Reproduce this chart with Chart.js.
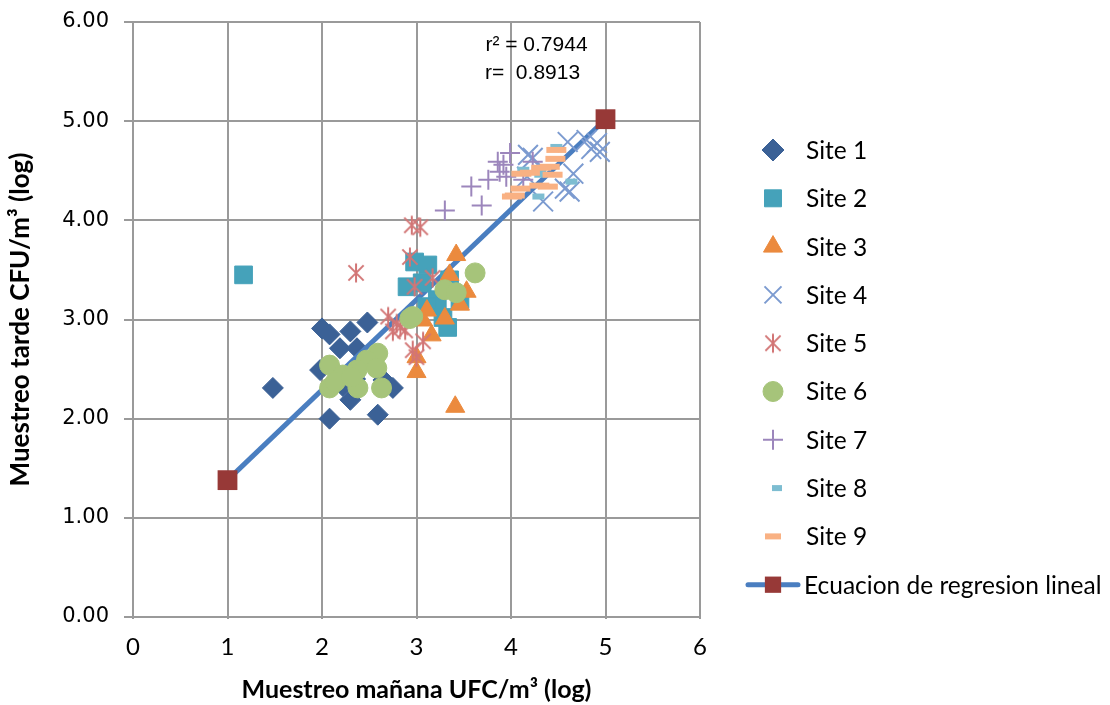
<!DOCTYPE html>
<html>
<head>
<meta charset="utf-8">
<script src="https://cdn.jsdelivr.net/npm/chart.js@4.4.1/dist/chart.umd.min.js"></script>
<style>
  html, body { margin: 0; padding: 0; background: #fff; }
  #wrap { width: 1110px; height: 705px; }
</style>
</head>
<body>
<div id="wrap"><canvas id="myChart" width="1110" height="705"></canvas></div>
<script>
// [morning, afternoon] log values per site
const site1 = [[2.00,2.91],[2.08,2.85],[2.30,2.88],[2.48,2.97],[2.19,2.71],[2.37,2.71],[1.98,2.49],
  [1.48,2.31],[2.30,2.19],[2.08,2.00],[2.59,2.04],[2.75,2.31],[2.65,2.39],[2.35,2.40],[2.22,2.33]];
const site2 = [[1.17,3.45],[2.98,3.58],[3.12,3.55],[2.90,3.33],[3.06,3.37],[3.35,3.40],[3.22,3.20],
  [3.46,3.20],[3.11,3.13],[3.28,3.02],[3.33,2.92]];
const site3 = [[3.42,3.65],[3.35,3.45],[3.53,3.28],[3.46,3.15],[3.11,3.09],[3.07,2.99],[3.30,3.01],
  [3.16,2.84],[3.00,2.62],[3.00,2.47],[3.41,2.12]];
const site4 = [[4.60,4.79],[4.80,4.81],[4.91,4.78],[4.94,4.69],[4.85,4.72],[4.66,4.47],[4.23,4.63],
  [4.57,4.32],[4.62,4.29],[4.34,4.19],[4.18,4.66],[4.17,4.44]];
const site5 = [[2.95,3.95],[3.04,3.93],[2.93,3.63],[2.98,3.33],[3.17,3.42],[2.36,3.47],[2.70,3.03],
  [2.79,2.96],[2.75,2.88],[2.88,2.89],[3.07,2.78],[3.00,2.62],[2.83,2.92],[2.96,2.69]];
const site6 = [[2.08,2.54],[2.93,3.01],[2.59,2.66],[2.47,2.59],[2.37,2.49],[2.22,2.44],[2.08,2.31],
  [2.38,2.31],[2.63,2.31],[2.58,2.51],[2.14,2.37],[2.31,2.42],[3.62,3.47],[3.30,3.30],[3.42,3.27],[2.96,3.03]];
const site7 = [[3.99,4.68],[3.86,4.59],[3.92,4.56],[3.88,4.49],[3.95,4.44],[3.76,4.41],[3.58,4.34],
  [3.69,4.15],[3.30,4.10],[4.23,4.59],[4.13,4.41]];
const site8 = [[4.48,4.74],[4.31,4.51],[4.31,4.46],[4.64,4.39],[4.29,4.24],[4.13,4.51]];
const site9 = [[4.48,4.71],[4.47,4.62],[4.41,4.54],[4.32,4.53],[4.11,4.47],[4.44,4.46],[4.39,4.34],
  [4.10,4.32],[4.04,4.25],[4.01,4.24],[4.20,4.48],[4.30,4.35]];
const regresion = [[1,1.38],[5,5.02]];
const stats = ['r\u00B2 = 0.7944', 'r=  0.8913'];

const pts = arr => arr.map(p => ({x: p[0], y: p[1]}));

// asterisk marker: X with a vertical bar, like Excel's star
function starMarker(size, color) {
  const c = document.createElement('canvas');
  c.width = size; c.height = size;
  const g = c.getContext('2d');
  const h = size / 2, r = h - 1.5;
  g.strokeStyle = color; g.lineWidth = 2;
  g.beginPath();
  g.moveTo(h - r * 0.8, h - r * 0.8); g.lineTo(h + r * 0.8, h + r * 0.8);
  g.moveTo(h + r * 0.8, h - r * 0.8); g.lineTo(h - r * 0.8, h + r * 0.8);
  g.moveTo(h, h - r); g.lineTo(h, h + r);
  g.stroke();
  return c;
}

function site(label, data, color, style, radius, order, extra) {
  return Object.assign({
    label: label, data: pts(data), order: order,
    pointStyle: style, pointRadius: radius, pointHoverRadius: radius,
    backgroundColor: color, borderColor: color, pointBorderWidth: 1
  }, extra || {});
}

const datasets = [
  site('Site 1', site1, '#3B6196', 'rectRot', 10.5, 11),
  site('Ecuacion de regresion lineal', regresion, '#973937', 'rect', 14, 10,
    {type: 'line', showLine: true, borderColor: '#4A7EC0', borderWidth: 5, pointBackgroundColor: '#973937',
     pointBorderColor: '#973937', pointBorderWidth: 0}),
  site('Site 2', site2, '#45A2BA', 'rect', 12.5, 9),
  site('Site 3', site3, '#EB8A3E', 'triangle', 11, 8),
  site('Site 4', site4, '#7C9BD0', 'crossRot', 14, 7, {pointBorderWidth: 2}),
  site('Site 5', site5, '#D27575', starMarker(22, '#D27575'), 11, 6),
  site('Site 6', site6, '#A6C47A', 'circle', 10, 5),
  site('Site 7', site7, '#9C86BC', 'cross', 10, 4, {pointBorderWidth: 2}),
  site('Site 8', site8, '#7DBDD1', 'line', 6, 3, {pointBorderWidth: 6}),
  site('Site 9', site9, '#F9B183', 'line', 10, 2, {pointBorderWidth: 6})
];

const legendOrder = ['Site 1','Site 2','Site 3','Site 4','Site 5','Site 6','Site 7','Site 8','Site 9',
  'Ecuacion de regresion lineal'];

const sideLegend = {
  id: 'sideLegend',
  afterDraw(chart) {
    const ctx = chart.ctx;
    const drawPoint = Chart.helpers && Chart.helpers.drawPoint;
    ctx.save();
    ctx.font = '24.5px Lato, "Open Sans", sans-serif';
    ctx.textBaseline = 'middle';
    ctx.fillStyle = '#000';
    legendOrder.forEach((name, i) => {
      const ds = chart.data.datasets.find(d => d.label === name);
      const y = 150 + i * 48.3;
      const mx = 773;
      if (ds.showLine) {
        ctx.strokeStyle = ds.borderColor; ctx.lineWidth = 5; ctx.lineCap = 'round';
        ctx.beginPath(); ctx.moveTo(748, y); ctx.lineTo(798, y); ctx.stroke();
      }
      if (drawPoint) {
        ctx.fillStyle = ds.pointBackgroundColor || ds.backgroundColor;
        ctx.strokeStyle = ds.pointBorderColor || ds.borderColor;
        ctx.lineWidth = ds.pointBorderWidth;
        const style = ds.pointStyle;
        let r = ds.showLine ? 11.5 : Math.min(ds.pointRadius, 12);
        if (style === 'line') r = name === 'Site 8' ? 5 : 8;
        if (style === 'rectRot') r = 11;
        drawPoint(ctx, {pointStyle: style, radius: r, rotation: 0, borderWidth: ds.pointBorderWidth}, style === 'line' && name === 'Site 8' ? mx + 4 : mx, y);
      }
      ctx.fillStyle = '#000';
      ctx.fillText(name, ds.showLine ? 804 : 806, y + 1);
    });
    // correlation text
    const xs = chart.scales.x, ys = chart.scales.y;
    ctx.font = '21px "Liberation Sans", Arial, sans-serif';
    ctx.textAlign = 'center';
    ctx.fillText(stats[0], xs.getPixelForValue(4.27), ys.getPixelForValue(5.77));
    ctx.fillText(stats[1], xs.getPixelForValue(4.27) - 4, ys.getPixelForValue(5.48));
    ctx.restore();
  }
};

const ctx = document.getElementById('myChart').getContext('2d');
const chart = new Chart(ctx, {
  type: 'scatter',
  data: { datasets: datasets },
  plugins: [sideLegend],
  options: {
    responsive: false,
    animation: false,
    layout: { padding: { left: 0, right: 410, top: 22, bottom: 0 } },
    plugins: { legend: { display: false }, tooltip: { enabled: false } },
    scales: {
      x: {
        min: 0, max: 6,
        afterFit: s => { s.height = 88; s.paddingLeft = 0; s.paddingRight = 0; },
        ticks: { stepSize: 1, padding: 14, color: '#000', font: { family: 'Lato, "Open Sans", sans-serif', size: 24 } },
        grid: { color: '#9a9a9a', lineWidth: 2, tickLength: 2 },
        border: { color: '#9a9a9a', width: 2 },
        title: { display: true, text: 'Muestreo mañana UFC/m³ (log)', color: '#000',
          font: { family: 'Lato, "Open Sans", sans-serif', size: 25, weight: 'bold' }, padding: { bottom: 0 } }
      },
      y: {
        min: 0, max: 6,
        afterFit: s => { s.width = 133; s.paddingTop = 0; s.paddingBottom = 0; },
        ticks: { stepSize: 1, padding: 15, color: '#000', callback: v => v.toFixed(2),
          font: { family: '"DejaVu Sans", Verdana, sans-serif', size: 21 } },
        grid: { color: '#9a9a9a', lineWidth: 2, tickLength: 9 },
        border: { color: '#9a9a9a', width: 2 },
        title: { display: true, text: 'Muestreo tarde CFU/m³ (log)', color: '#000',
          font: { family: 'Lato, "Open Sans", sans-serif', size: 26, weight: 'bold' }, padding: { top: 5 } }
      }
    }
  }
});
</script>
</body>
</html>
